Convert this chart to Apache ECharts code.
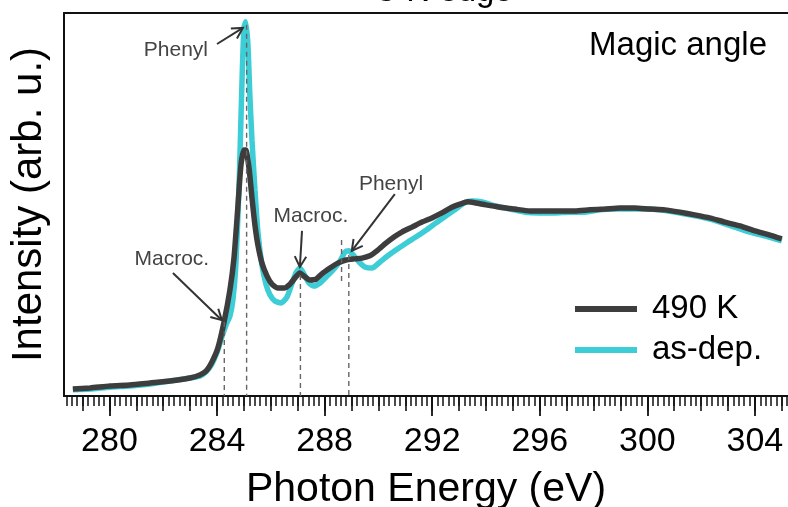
<!DOCTYPE html>
<html>
<head>
<meta charset="utf-8">
<script src="https://cdn.jsdelivr.net/npm/echarts@6/dist/echarts.min.js"></script>
<style>
  html, body { margin: 0; padding: 0; background: #fff; }
  #chart { width: 788px; height: 507px; }
</style>
</head>
<body>
<div id="chart"></div>
<script>
// NEXAFS C K-edge spectra (magic angle), intensity in arbitrary units
const energy490 = [278.64, 279.28, 280.02, 280.76, 281.51, 282.25, 282.99, 283.36, 283.59, 283.81,
  284.03, 284.26, 284.48, 284.63, 284.78, 284.89, 285.00, 285.07, 285.19, 285.30,
  285.41, 285.52, 285.67, 285.86, 286.04, 286.26, 286.49, 286.71, 286.93, 287.08,
  287.23, 287.45, 287.68, 287.90, 288.20, 288.49, 288.79, 289.09, 289.39, 289.68,
  289.98, 290.28, 290.58, 290.87, 291.25, 291.62, 291.99, 292.36, 292.73, 293.03,
  293.33, 293.62, 294.00, 294.52, 295.07, 295.63, 296.19, 296.75, 297.30, 297.86,
  298.42, 298.98, 299.53, 300.09, 300.65, 301.21, 301.76, 302.32, 302.88, 303.44,
  304.00, 304.56, 305.00];
const intensity490 = [1.8, 2.1, 2.6, 2.9, 3.4, 3.9, 4.7, 5.5, 6.5, 8.9,
  12.5, 19.3, 27.7, 36.0, 49.9, 60.3, 64.2, 64.2, 59.5, 51.7,
  44.6, 39.4, 34.7, 31.3, 29.2, 28.2, 28.2, 29.2, 31.1, 32.1,
  31.3, 30.3, 30.5, 31.9, 33.4, 34.7, 35.5, 35.8, 36.0, 36.6,
  38.1, 39.9, 41.5, 42.8, 44.1, 45.4, 46.5, 47.8, 49.3, 50.1,
  50.7, 50.4, 49.9, 49.3, 48.8, 48.3, 48.3, 48.3, 48.3, 48.6,
  48.8, 49.1, 49.1, 48.8, 48.6, 48.0, 47.3, 46.5, 45.4, 44.4,
  43.1, 42.0, 41.0];

const energyAsDep = [278.64, 279.28, 280.02, 280.76, 281.51, 282.25, 282.99, 283.36, 283.59, 283.81,
  284.03, 284.18, 284.33, 284.48, 284.59, 284.70, 284.82, 284.93, 285.00, 285.07,
  285.15, 285.22, 285.30, 285.41, 285.52, 285.67, 285.82, 285.97, 286.15, 286.38,
  286.60, 286.78, 286.93, 287.08, 287.23, 287.42, 287.60, 287.83, 288.09, 288.35,
  288.57, 288.76, 288.90, 289.09, 289.28, 289.50, 289.76, 290.06, 290.35, 290.65,
  291.03, 291.39, 291.77, 292.14, 292.51, 292.88, 293.18, 293.48, 293.85, 294.37,
  294.89, 295.45, 296.00, 296.56, 297.12, 297.68, 298.23, 298.79, 299.35, 299.91,
  300.46, 301.02, 301.58, 302.14, 302.70, 303.25, 303.81, 304.37, 305.00];
const intensityAsDep = [1.6, 1.8, 2.3, 2.6, 3.1, 3.9, 4.7, 5.2, 6.3, 8.4,
  12.0, 15.4, 18.5, 20.9, 25.1, 34.2, 55.1, 82.5, 96.1, 97.7,
  91.6, 78.6, 66.8, 53.8, 42.8, 34.2, 29.2, 26.4, 24.8, 24.3,
  25.8, 29.2, 32.1, 33.4, 31.9, 29.5, 28.7, 29.5, 31.3, 33.2,
  35.2, 37.6, 37.9, 36.6, 35.0, 33.7, 33.4, 35.0, 36.6, 38.1,
  39.9, 41.5, 43.3, 45.2, 47.0, 48.8, 50.4, 50.9, 50.7, 49.6,
  48.8, 48.0, 47.8, 47.8, 48.0, 48.0, 48.6, 48.8, 48.8, 48.8,
  48.6, 48.0, 47.3, 46.5, 45.4, 44.1, 42.8, 41.8, 40.5];

// Resonance markers (dashed verticals)
const markerEnergy = [284.27, 285.10, 287.10, 288.63, 288.90];
const markerTop = [19.3, 96.9, 31.6, 40.7, 36.8];
const markerBottom = [0, 0, 0, 29.5, 0];

// Peak assignments with arrows
const noteLabels = ['Phenyl', 'Macroc.', 'Macroc.', 'Phenyl'];
const noteX = [282.47, 282.32, 287.49, 290.47];
const noteY = [90.3, 35.8, 47.0, 55.4];
const arrowFromX = [284.00, 282.36, 287.16, 290.61];
const arrowFromY = [91.9, 32.1, 43.1, 52.7];
const arrowToX = [284.96, 284.18, 287.08, 289.01];
const arrowToY = [96.1, 19.8, 33.7, 37.9];

// Axis ticks
const majorTicks = [280, 284, 288, 292, 296, 300, 304];
const unitTicks = [];
for (let v = 279; v <= 305; v++) unitTicks.push(v);
const fineTicks = [];
for (let i = 1392; i <= 1526; i++) fineTicks.push(Math.round(i * 2) / 10);

const X_MIN = 278.31, X_MAX = 305.23;
const FONT = '"Liberation Sans", Arial, Helvetica, sans-serif';
const DARK = '#3d3d3d';
const CYAN = '#3dcdd6';
const AXIS = '#111';

const zip = (xs, ys) => xs.map((x, i) => [x, ys[i]]);

function xAxisBase(extra) {
  return Object.assign({
    type: 'value', min: X_MIN, max: X_MAX, position: 'bottom',
    splitLine: { show: false },
    axisLabel: { show: false },
    axisTick: { show: false },
    axisLine: { show: false, onZero: false }
  }, extra);
}

const chart = echarts.init(document.getElementById('chart'), null, { renderer: 'canvas' });

chart.setOption({
  animation: false,
  backgroundColor: '#fff',
  textStyle: { fontFamily: FONT },
  grid: { left: 64, right: 0, top: 13, bottom: 111, containLabel: false, outerBoundsMode: 'none' },
  graphic: [
    {
      type: 'text', x: 443, y: -8,
      style: { text: 'C K-edge', font: '33px ' + FONT, fill: '#000', align: 'center', verticalAlign: 'middle' }
    },
    {
      type: 'text', x: 767, y: 46,
      style: { text: 'Magic angle', font: '33px ' + FONT, fill: '#000', align: 'right', verticalAlign: 'middle' }
    }
  ],
  legend: {
    data: ['490 K', 'as-dep.'],
    orient: 'vertical',
    left: 570, top: 286,
    icon: 'rect',
    itemWidth: 62, itemHeight: 6, itemGap: 5,
    textStyle: { fontSize: 33, lineHeight: 36, color: '#000', fontFamily: FONT, padding: [0, 0, 0, 10] }
  },
  xAxis: [
    xAxisBase({
      axisLine: { show: true, onZero: false, lineStyle: { color: AXIS, width: 2 } },
      axisTick: { show: true, customValues: majorTicks, length: 20, lineStyle: { color: AXIS, width: 1.8 } },
      axisLabel: { show: true, customValues: majorTicks, fontSize: 34, margin: 29, color: '#000', fontFamily: FONT },
      name: 'Photon Energy (eV)', nameLocation: 'middle', nameGap: 73,
      nameTextStyle: { fontSize: 41, color: '#000', fontFamily: FONT }
    }),
    xAxisBase({
      axisTick: { show: true, customValues: unitTicks, length: 15, lineStyle: { color: AXIS, width: 1.6 } }
    }),
    xAxisBase({
      axisTick: { show: true, customValues: fineTicks, length: 10, lineStyle: { color: AXIS, width: 1.5 } }
    }),
    xAxisBase({
      position: 'top',
      axisLine: { show: true, onZero: false, lineStyle: { color: AXIS, width: 2 } }
    })
  ],
  yAxis: {
    type: 'value', min: 0, max: 100,
    axisLine: { show: true, onZero: false, lineStyle: { color: AXIS, width: 2 } },
    axisTick: { show: false }, axisLabel: { show: false }, splitLine: { show: false },
    name: 'Intensity (arb. u.)', nameLocation: 'middle', nameGap: 14,
    nameTextStyle: { fontSize: 42, color: '#000', fontFamily: FONT }
  },
  series: [
    {
      type: 'line', name: 'as-dep.', xAxisIndex: 0,
      data: zip(energyAsDep, intensityAsDep),
      showSymbol: false, smooth: 0.2,
      lineStyle: { color: CYAN, width: 5.5 }, itemStyle: { color: CYAN }, z: 2
    },
    {
      type: 'line', name: '490 K', xAxisIndex: 0,
      data: zip(energy490, intensity490),
      showSymbol: false, smooth: 0.2,
      lineStyle: { color: DARK, width: 5.5 }, itemStyle: { color: DARK }, z: 3
    },
    {
      type: 'custom', name: 'markers', xAxisIndex: 0, z: 4, silent: true,
      data: markerEnergy.map((e, i) => [e, markerTop[i], markerBottom[i]]),
      renderItem: (params, api) => {
        const p1 = api.coord([api.value(0), api.value(1)]);
        const p2 = api.coord([api.value(0), api.value(2)]);
        return {
          type: 'line',
          shape: { x1: p1[0], y1: p1[1], x2: p2[0], y2: p2[1] },
          style: { stroke: '#666', lineWidth: 1.4, lineDash: [5, 4] }
        };
      }
    },
    {
      type: 'custom', name: 'arrows', xAxisIndex: 0, z: 5, silent: true,
      data: arrowFromX.map((x, i) => [x, arrowFromY[i], arrowToX[i], arrowToY[i]]),
      renderItem: (params, api) => {
        const a = api.coord([api.value(0), api.value(1)]);
        const b = api.coord([api.value(2), api.value(3)]);
        const ang = Math.atan2(b[1] - a[1], b[0] - a[0]);
        const L = 12, spread = 0.5;
        const h1 = [b[0] - L * Math.cos(ang - spread), b[1] - L * Math.sin(ang - spread)];
        const h2 = [b[0] - L * Math.cos(ang + spread), b[1] - L * Math.sin(ang + spread)];
        const st = { stroke: '#333', lineWidth: 2, fill: null };
        return {
          type: 'group',
          children: [
            { type: 'line', shape: { x1: a[0], y1: a[1], x2: b[0], y2: b[1] }, style: st },
            { type: 'polyline', shape: { points: [h1, b, h2] }, style: st }
          ]
        };
      }
    },
    {
      type: 'custom', name: 'notes', xAxisIndex: 0, z: 5, silent: true,
      data: noteX.map((x, i) => [x, noteY[i]]),
      renderItem: (params, api) => {
        const p = api.coord([api.value(0), api.value(1)]);
        return {
          type: 'text', x: p[0], y: p[1],
          style: {
            text: noteLabels[params.dataIndex], fill: '#444',
            font: '21px ' + FONT, align: 'center', verticalAlign: 'middle'
          }
        };
      }
    }
  ]
});
</script>
</body>
</html>
